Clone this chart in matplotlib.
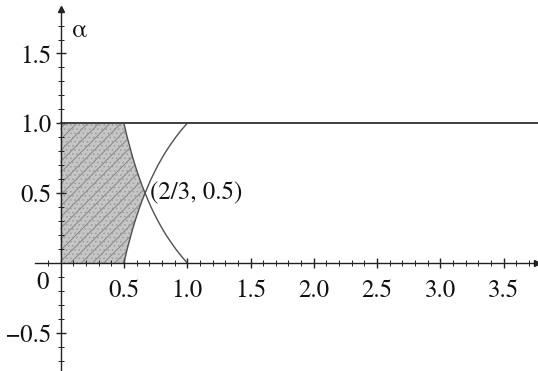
import numpy as np
import matplotlib
matplotlib.use("Agg")
import matplotlib.pyplot as plt
from matplotlib.ticker import FixedLocator

plt.rcParams['font.family'] = ['TeX Gyre Termes', 'STIX Two Text', 'DejaVu Serif']
plt.rcParams['hatch.linewidth'] = 0.6

# alpha levels and the two boundary curves x(alpha)
alpha = [0.0, 0.05, 0.1, 0.15, 0.2, 0.25, 0.3, 0.35, 0.4, 0.45, 0.5,
         0.55, 0.6, 0.65, 0.7, 0.75, 0.8, 0.85, 0.9, 0.95, 1.0]
x_falling = [1.0, 0.952, 0.909, 0.870, 0.833, 0.800, 0.769, 0.741, 0.714, 0.690, 0.667,
             0.645, 0.625, 0.606, 0.588, 0.571, 0.556, 0.541, 0.526, 0.513, 0.5]
x_rising = [0.5, 0.513, 0.526, 0.541, 0.556, 0.571, 0.588, 0.606, 0.625, 0.645, 0.667,
            0.690, 0.714, 0.741, 0.769, 0.800, 0.833, 0.870, 0.909, 0.952, 1.0]
top_level = 1.0
x_end = 3.78
cross_point = (2 / 3, 0.5)
cross_label = "(2/3, 0.5)"

x_ticks = [0.5, 1.0, 1.5, 2.0, 2.5, 3.0, 3.5]
y_ticks = [-0.5, 0.5, 1.0, 1.5]

fig = plt.figure(figsize=(5.38, 3.71), dpi=100)
ax = fig.add_axes([0, 0, 1, 1])
ax.set_xlim(-0.479, 3.771)
ax.set_ylim(-0.774, 1.883)

a = np.array(alpha)
xf = np.array(x_falling)
xr = np.array(x_rising)
inner = np.minimum(xf, xr)

# shaded region: from the alpha axis to the nearer boundary curve
ax.fill_betweenx(a, 0, inner, facecolor='#c6c6c6', edgecolor='#7c7c7c',
                 hatch='///', linewidth=0, zorder=1)
ax.fill_betweenx(a, 0, inner, facecolor='none', edgecolor='#9c9c9c',
                 hatch='....', linewidth=0, zorder=1)

line_col = '#505050'
ax.plot(xf, a, color=line_col, lw=1.0, zorder=3)
ax.plot(xr, a, color=line_col, lw=1.0, zorder=3)
ax.plot([0, x_end], [top_level, top_level], color='#404040', lw=1.4, zorder=3)

fs = 18
ax.text(cross_point[0] + 0.04, cross_point[1], cross_label, fontsize=fs,
        ha='left', va='center', color='#111111')

# axes through the origin
for s in ('top', 'right'):
    ax.spines[s].set_visible(False)
ax.spines['left'].set_position(('data', 0))
ax.spines['bottom'].set_position(('data', 0))
ax.spines['left'].set_bounds(-0.78, 1.80)
ax.spines['bottom'].set_bounds(-0.20, 3.76)
for s in ('left', 'bottom'):
    ax.spines[s].set_color('#222222')
    ax.spines[s].set_linewidth(1.0)
    ax.spines[s].set_zorder(4)

ax.plot([3.765], [0], marker='>', color='#222222', ms=5, clip_on=False, zorder=5)
ax.plot([0], [1.815], marker='^', color='#222222', ms=5, clip_on=False, zorder=5)

ax.xaxis.set_major_locator(FixedLocator(x_ticks))
ax.yaxis.set_major_locator(FixedLocator(y_ticks))
ax.xaxis.set_minor_locator(FixedLocator(np.arange(-0.1, 3.75, 0.1)))
ax.yaxis.set_minor_locator(FixedLocator(np.arange(-0.7, 1.75, 0.1)))
ax.set_xticklabels([f"{v:.1f}" for v in x_ticks])
ax.set_yticklabels([f"{v:.1f}".replace('-', '\u2212') for v in y_ticks])

ax.tick_params(which='major', direction='inout', length=7, width=1.0,
               color='#222222', labelsize=fs, labelcolor='#111111')
ax.tick_params(which='minor', direction='inout', length=4, width=0.7,
               color='#222222')
ax.tick_params(axis='x', which='major', pad=8)
ax.tick_params(axis='y', which='major', pad=3)

ax.text(-0.09, -0.06, "0", fontsize=fs, ha='right', va='top', color='#111111')
ax.text(0.09, 1.66, "\u03b1", fontsize=fs, ha='left', va='center', color='#111111')

fig.savefig("out.png", dpi=100)
